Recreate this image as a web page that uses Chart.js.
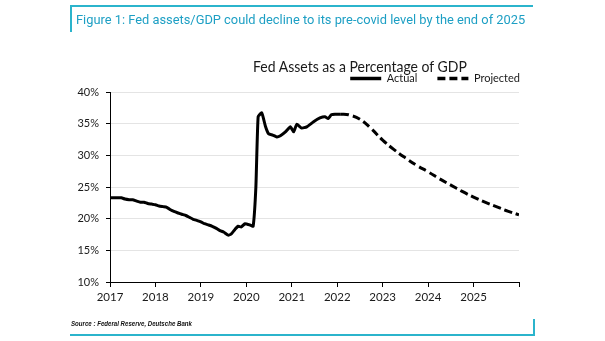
<!DOCTYPE html>
<html><head><meta charset="utf-8">
<script src="https://cdn.jsdelivr.net/npm/chart.js@4.4.1/dist/chart.umd.min.js"></script>
<style>
html,body{margin:0;padding:0;background:#fff;width:605px;height:341px;overflow:hidden;}
#wrap{position:relative;width:605px;height:341px;}
canvas{position:absolute;left:0;top:0;}
.bar{position:absolute;background:#2bb4cc;}
#fig{position:absolute;left:76px;top:12px;font:13px Roboto,sans-serif;color:#1d9fc4;white-space:nowrap;transform-origin:0 0;}
#ctitle{position:absolute;left:253px;top:57px;font:15px Lato,sans-serif;color:#1a1a1a;white-space:nowrap;transform-origin:0 0;}
#src{position:absolute;left:71px;top:319px;font:italic bold 7.5px 'Liberation Sans Narrow','Liberation Sans',sans-serif;color:#111;white-space:nowrap;transform-origin:0 0;}
</style></head><body>
<div id="wrap">
<canvas id="c" width="605" height="341"></canvas>
<div class="bar" style="left:70px;top:5px;width:463px;height:2px"></div>
<div class="bar" style="left:70px;top:5px;width:2px;height:27px"></div>
<div class="bar" style="left:70px;top:334px;width:465px;height:2px"></div>
<div class="bar" style="left:533px;top:319px;width:2px;height:17px"></div>
<div id="fig" data-w="449">Figure 1: Fed assets/GDP could decline to its pre-covid level by the end of 2025</div>
<div id="ctitle" data-w="214">Fed Assets as a Percentage of GDP</div>
<div id="src" data-w="121">Source : Federal Reserve, Deutsche Bank</div>
</div>
<script>
// ---- data ----
const seriesNames = ['Actual', 'Projected'];
const yearLabels = ['2017','2018','2019','2020','2021','2022','2023','2024','2025'];
const yTickLabels = ['10%','15%','20%','25%','30%','35%','40%'];

const actualYears = [2017.00,2017.08,2017.17,2017.25,2017.33,2017.42,2017.50,2017.58,2017.67,2017.75,2017.83,2017.92,
  2018.00,2018.08,2018.17,2018.25,2018.33,2018.42,2018.50,2018.58,2018.67,2018.75,2018.83,2018.92,
  2019.00,2019.08,2019.17,2019.25,2019.33,2019.42,2019.50,2019.60,2019.67,2019.75,2019.82,2019.89,2019.97,
  2020.08,2020.15,2020.21,2020.26,2020.34,2020.42,2020.49,2020.58,2020.67,2020.75,2020.86,2020.97,
  2021.04,2021.11,2021.22,2021.33,2021.48,2021.62,2021.73,2021.80,2021.87,2021.95,2022.08];
const actualValues = [23.3,23.3,23.3,23.3,23.1,23.0,23.0,22.8,22.6,22.6,22.4,22.3,
  22.2,22.0,21.9,21.8,21.4,21.1,20.9,20.7,20.5,20.2,19.9,19.7,
  19.5,19.2,19.0,18.8,18.5,18.1,17.9,17.4,17.6,18.3,18.8,18.7,19.2,
  19.0,18.8,25.0,36.1,36.7,34.6,33.4,33.2,32.9,33.1,33.7,34.5,
  33.7,34.9,34.3,34.5,35.3,35.9,36.1,35.8,36.4,36.5,36.5];

const projYears = [2022.08,2022.25,2022.50,2022.75,2023.00,2023.25,2023.50,2023.75,2024.00,2024.25,2024.50,2024.75,2025.00,2025.25,2025.50,2025.75,2026.00];
const projValues = [36.5,36.4,35.7,34.2,32.4,30.9,29.6,28.4,27.4,26.3,25.3,24.3,23.4,22.6,21.9,21.2,20.6];

// fit text widths of html labels to reference widths
document.querySelectorAll('[data-w]').forEach(el => {
  const w = el.getBoundingClientRect().width;
  const t = parseFloat(el.dataset.w);
  if (w > 0) el.style.transform = 'scaleX(' + (t / w).toFixed(3) + ')';
});

const legendShift = {
  id: 'legendShift',
  afterLayout(chart) {
    const l = chart.legend;
    l.left += 21; l.right += 21;
    l.top += 2; l.bottom += 2;
  }
};

const font = { family: 'Lato, sans-serif', size: 11 };
new Chart(document.getElementById('c'), {
  type: 'line',
  data: {
    datasets: [
      { label: seriesNames[0], data: actualYears.map((x, i) => ({ x, y: actualValues[i] })),
        borderColor: '#000', backgroundColor: '#000', borderWidth: 3, pointRadius: 0, tension: 0.15, fill: false },
      { label: seriesNames[1], data: projYears.map((x, i) => ({ x, y: projValues[i] })),
        borderColor: '#000', backgroundColor: '#000', borderWidth: 3, borderDash: [8, 4], pointRadius: 0, tension: 0.4, fill: false }
    ]
  },
  options: {
    responsive: false,
    animation: false,
    devicePixelRatio: 1,
    layout: { padding: { top: 51, right: 86, bottom: 0, left: 0 } },
    plugins: {
      title: { display: false },
      tooltip: { enabled: false },
      legend: {
        position: 'top', align: 'end',
        labels: {
          usePointStyle: true, pointStyle: 'line', pointStyleWidth: 31, padding: 20, color: '#1a1a1a', font,
          generateLabels: chart => {
            const items = Chart.defaults.plugins.legend.labels.generateLabels(chart);
            items.forEach(it => {
              const ds = chart.data.datasets[it.datasetIndex];
              it.lineDash = ds.borderDash || [];
              it.lineWidth = 3.5;
              it.strokeStyle = '#000';
              it.pointStyle = 'line';
            });
            return items;
          }
        }
      }
    },
    scales: {
      x: {
        type: 'linear', min: 2017, max: 2026,
        afterFit: s => { s.height = 59; },
        ticks: { stepSize: 1, padding: 3, color: '#1a1a1a', font: { family: 'Lato, sans-serif', size: 11.5 },
          callback: v => yearLabels[Math.round(v) - 2017] || '' },
        grid: { drawOnChartArea: false, drawTicks: true, tickLength: 5, tickColor: '#000' },
        border: { color: '#000', width: 1 }
      },
      y: {
        min: 10, max: 40,
        afterFit: s => { s.width = 110; },
        ticks: { stepSize: 5, padding: 7, color: '#1a1a1a', font,
          callback: v => yTickLabels[Math.round((v - 10) / 5)] },
        grid: { color: '#e4e4e4', lineWidth: 1, tickLength: 4, tickColor: '#000' },
        border: { color: '#000', width: 1 }
      }
    }
  },
  plugins: [legendShift]
});
</script>
</body></html>
